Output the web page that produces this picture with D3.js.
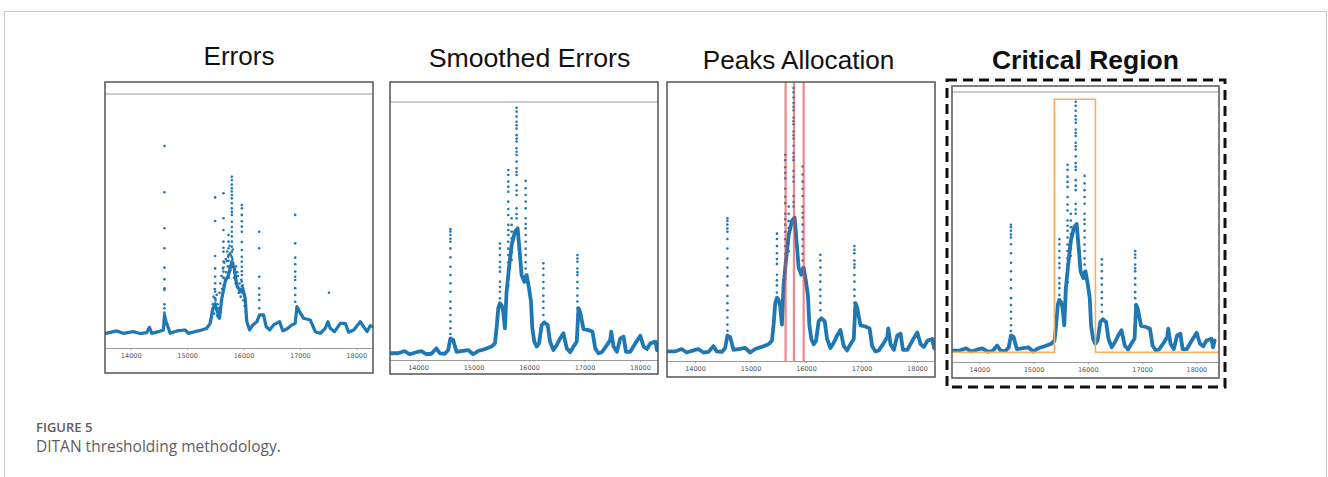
<!DOCTYPE html>
<meta charset="utf-8">
<style>
body { margin: 0; background: #fff; }
#plot { display: block; }
.title { font-family: "Liberation Sans", Arial, sans-serif; fill: #111; text-anchor: middle; }
.axis text { font: 6.5px "DejaVu Sans", sans-serif; fill: #555; }
.axis path, .axis line { stroke: #999; }
.caption { font-family: "Open Sans", sans-serif; fill: #5e5e5e; }
</style>
<svg id="plot" width="1328" height="477"></svg>
<script src="https://d3js.org/d3.v7.min.js"></script>
<script>

// ---- data ----
var panelTitles = ["Errors", "Smoothed Errors", "Peaks Allocation", "Critical Region"];
var tickValues = [14000, 15000, 16000, 17000, 18000];

// raw errors: dense trace (drawn as thick line)
var rawX = [13562,13751,13870,14047,14166,14284,14331,14373,14491,14580,14598,14627,14669,14698,14817,14964,15024,15142,15260,15349,15408,15456,15497,15538,15574,15615,15675,15734,15793,15834,15882,15941,15988,16030,16059,16107,16166,16237,16284,16355,16402,16462,16533,16639,16698,16769,16858,16917,16947,16994,17065,17183,17272,17361,17450,17497,17538,17615,17716,17805,17864,17953,18071,18130,18189,18249,18296];
var rawY = [0.5,1.8,0.5,1.4,0.4,0.9,3.7,0.5,1.4,2.3,10.3,6.7,3.2,0.5,1.8,2.3,0.5,1.4,2.3,3.2,5.8,13.8,15.6,12.0,8.5,19.1,28.0,31.5,38.6,35.0,26.2,22.7,24.4,19.1,6.7,2.3,5.0,6.7,10.3,10.3,4.1,2.3,5.0,6.7,1.8,2.8,5.0,5.8,14.7,12.0,8.5,7.6,1.4,0.5,3.2,6.7,3.2,1.4,5.8,5.8,1.1,2.3,6.7,4.1,1.4,4.6,4.1];

// raw errors: isolated spike columns
var rawSpikeX = [14598, 15497, 15645, 15734, 15793, 15970, 16278, 16917, 17515];
var rawSpikeY = [
  [100, 75.4, 56.3, 45.7, 35.4, 29.2, 24.4, 23.5, 15.9, 13.8, 11.5],
  [72.7, 60.2, 41.6, 35.0, 30.6, 27.1, 22.7, 19.1, 16.5],
  [74.9, 61.6, 55.4, 49.2, 46.0, 43.9, 38.6, 35.5, 33.3, 30.0],
  [52.7, 49.2, 45.7, 42.1, 39.0, 36.0],
  [83.7, 81.9, 79.5, 77.5, 75.8, 74.0, 72.2, 69.6, 66.9, 65.0, 63.4, 59.8, 57.0, 54.5, 52.0, 49.2, 46.5, 43.9, 41.0, 38.6],
  [68.7, 66.9, 63.4, 60.0, 57.2, 54.5, 49.0, 44.8, 41.2, 38.5, 35.9, 33.5, 31.5, 28.0, 25.5],
  [54.5, 45.7, 30.6, 24.4, 21.0, 18.2, 13.8],
  [63.4, 48.3, 40.7, 37.2, 33.3, 30.6, 28.8, 24.5, 20.9, 17.3],
  [22.1]
];

// raw errors: scattered points in the central cluster
var rawClusterX = [15440,15455,15470,15480,15490,15505,15515,15525,15540,15550,15560,15575,15590,15600,15610,15620,15635,15650,15660,15670,15685,15695,15710,15720,15740,15755,15765,15775,15810,15820,15840,15855,15870,15885,15900,15915,15930,15950,15960,15985,16000,16010,16020,16035,16045,15460,15495,15530,15565,15625,15645,15700,15730,15760,15805,15830,15860,15890,15940,15975];
var rawClusterY = [9,16,20,11,24,18,13,21,16,9,14,22,27,18,31,24,35,26,38,29,40,33,44,36,30,47,34,42,45,38,33,29,36,25,31,22,27,20,29,26,18,21,15,12,9,13,19,10,12,21,30,39,41,43,40,30,27,33,24,22];

// smoothed errors: dense trace
var smoothX = [13518,13639,13759,13849,14000,14060,14151,14241,14331,14392,14482,14542,14584,14633,14693,14783,14904,14994,15084,15205,15325,15386,15416,15446,15476,15506,15536,15566,15596,15639,15687,15747,15795,15837,15867,15916,15958,16000,16036,16060,16096,16139,16181,16229,16277,16337,16380,16440,16500,16560,16620,16681,16741,16801,16861,16892,16922,16982,17072,17145,17193,17253,17313,17404,17464,17482,17524,17584,17645,17705,17747,17825,17916,18006,18066,18126,18187,18277,18307,18337];
var smoothY = [0.7,0.7,1.6,0.3,1.3,1.6,0.3,0.5,2.7,0.7,0.5,1.9,6.7,6.1,1.3,1.6,2.0,0.3,1.6,2.4,3.4,4.7,10.8,18.9,20.9,20.2,17.5,10.8,25.6,35.0,44.5,49.9,51.2,40.4,32.3,29.6,32.3,27.0,21.6,10.8,5.4,3.4,4.7,12.1,13.2,12.1,5.4,2.0,4.0,6.7,8.8,2.7,1.1,3.4,5.4,18.9,17.3,10.5,10.1,9.4,2.7,0.7,1.1,4.0,6.1,9.4,3.4,1.3,6.7,7.4,1.3,1.3,4.7,7.8,3.4,2.4,4.7,5.4,2.0,4.7];

// smoothed errors: spike columns
var smoothSpikeX = [14584, 15476, 15627, 15687, 15777, 15940, 16259, 16873];
var smoothSpikeY = [
  [50.9,49.9,48.5,47.0,45.8,43.1,39.5,35.7,32.3,29.0,25.6,21.6,18.9,16.2,13.5,10.8,8.5],
  [45.1,43.1,40.4,37.7,35.5,33.7,29.6,27.5,25.6,22.9],
  [74.8,72.8,70.1,68.0,66.0,62.0,59.0,56.6,52.6,50.5,48.5,45.8,43.0,40.4,37.5,35.0,31.0,28.0],
  [55.3,52.6,49.9,47.2,44.5,41.5,38.5],
  [100,98.4,96.4,94.3,92.9,91.6,88.9,87.5,86.3,83.6,82.2,80.9,78.2,75.5,74.0,72.8,68.7,66.5,64.7,59.3,57.0,55.3],
  [70.4,67.4,64.7,62.0,59.3,55.3,53.0,51.2,48.5,45.8,43.0,40.4,37.5,35.0,32.3],
  [37.1,35.0,32.3,29.5,27.0,24.0,21.6,19.0,16.2],
  [40.4,39.0,37.7,35.0,33.5,32.3,29.5,27.0,24.0,21.6,19.0,16.2,13.5,10.8]
];

// allocated peaks and critical region
var peakX = [15632, 15783, 15958];
var regionX = [15384, 16140];
var regionLevel = 101;

// ---- layout ----
var svg = d3.select("#plot");
var blue = "#1f77b4";

svg.append("rect")
    .attr("x", 4.5).attr("y", 11.5)
    .attr("width", 1322).attr("height", 490)
    .attr("fill", "none").attr("stroke", "#c8c8c8");

var panels = [
  {box: [105, 82, 373, 373], top: 94, axisY: 348, xd: [13544, 18296], yr: [334.3, 146], tx: 239, ty: 65, fs: 26, raw: true},
  {box: [390, 82, 658, 374], top: 102, axisY: 360, xd: [13495, 18325], yr: [355, 107.7], tx: 529.5, ty: 67, fs: 26.7},
  {box: [667, 82, 935, 377], top: null, axisY: 361, xd: [13495, 18325], yr: [353.3, 88], tx: 798.5, ty: 69, fs: 26.1, peaks: true},
  {box: [952, 86, 1219, 378], top: 92, axisY: 362, xd: [13498, 18417], yr: [352.3, 101.7], tx: 1085.5, ty: 69, fs: 26.5, bold: true, region: true}
];

function columns(xs, ys) {
  var pts = [];
  xs.forEach(function(xv, i) {
    ys[i].forEach(function(yv) { pts.push([xv, yv]); });
  });
  return pts;
}

var defs = svg.append("defs");

panels.forEach(function(p, i) {
  var x = d3.scaleLinear().domain(p.xd).range([p.box[0], p.box[2]]);
  var y = d3.scaleLinear().domain([0, 100]).range(p.yr);

  defs.append("clipPath").attr("id", "clip" + i)
    .append("rect")
      .attr("x", p.box[0]).attr("y", p.box[1])
      .attr("width", p.box[2] - p.box[0]).attr("height", p.box[3] - p.box[1]);

  var g = svg.append("g").attr("clip-path", "url(#clip" + i + ")");

  svg.append("text")
      .attr("class", "title")
      .attr("x", p.tx).attr("y", p.ty)
      .style("font-size", p.fs + "px")
      .style("font-weight", p.bold ? "bold" : "normal")
      .text(panelTitles[i]);

  if (p.top) {
    g.append("line")
        .attr("x1", p.box[0]).attr("x2", p.box[2])
        .attr("y1", p.top).attr("y2", p.top)
        .attr("stroke", "#999").attr("stroke-width", 1);
  }

  g.append("g")
      .attr("class", "axis")
      .attr("transform", "translate(0," + p.axisY + ")")
      .call(d3.axisBottom(x).tickValues(tickValues).tickSize(2).tickSizeOuter(0).tickPadding(3).tickFormat(d3.format("d")));

  var line = d3.line()
      .x(function(d) { return x(d[0]); })
      .y(function(d) { return y(d[1]); });

  var trace = p.raw ? d3.zip(rawX, rawY) : d3.zip(smoothX, smoothY);
  var dots = p.raw ? columns(rawSpikeX, rawSpikeY).concat(d3.zip(rawClusterX, rawClusterY))
                   : columns(smoothSpikeX, smoothSpikeY);

  g.append("path")
      .datum(trace)
      .attr("d", line)
      .attr("fill", "none")
      .attr("stroke", blue)
      .attr("stroke-width", p.raw ? 3.2 : 3.8)
      .attr("stroke-linejoin", "round")
      .attr("stroke-linecap", "round");

  g.selectAll(".dot").data(dots).enter().append("circle")
      .attr("class", "dot")
      .attr("cx", function(d) { return x(d[0]); })
      .attr("cy", function(d) { return y(d[1]); })
      .attr("r", 1.3)
      .attr("fill", blue);

  if (p.peaks) {
    g.selectAll(".peak").data(peakX).enter().append("line")
        .attr("class", "peak")
        .attr("x1", function(d) { return x(d); }).attr("x2", function(d) { return x(d); })
        .attr("y1", p.box[1]).attr("y2", p.axisY)
        .attr("stroke", "#e8474c").attr("stroke-opacity", 0.65).attr("stroke-width", 2.2);
  }

  if (p.region) {
    var step = [[p.xd[0], 0], [regionX[0], 0], [regionX[0], regionLevel], [regionX[1], regionLevel], [regionX[1], 0], [p.xd[1], 0]];
    g.append("path")
        .datum(step)
        .attr("d", d3.line().x(function(d) { return x(d[0]); }).y(function(d) { return y(d[1]); }))
        .attr("fill", "none")
        .attr("stroke", "#fdac5f")
        .attr("stroke-width", 1.6);
  }

  svg.append("rect")
      .attr("x", p.box[0]).attr("y", p.box[1])
      .attr("width", p.box[2] - p.box[0]).attr("height", p.box[3] - p.box[1])
      .attr("fill", "none").attr("stroke", "#555").attr("stroke-width", 1.5);
});

// dashed highlight around the last panel
svg.append("rect")
    .attr("x", 947).attr("y", 80)
    .attr("width", 278).attr("height", 307)
    .attr("fill", "none")
    .attr("stroke", "#111").attr("stroke-width", 3)
    .attr("stroke-dasharray", "10,6");

svg.append("text")
    .attr("class", "caption")
    .attr("x", 36).attr("y", 432)
    .style("font-size", "13px").style("font-weight", 600)
    .text("FIGURE 5");

svg.append("text")
    .attr("class", "caption")
    .attr("x", 36).attr("y", 452)
    .style("font-size", "15.5px")
    .text("DITAN thresholding methodology.");

</script>
